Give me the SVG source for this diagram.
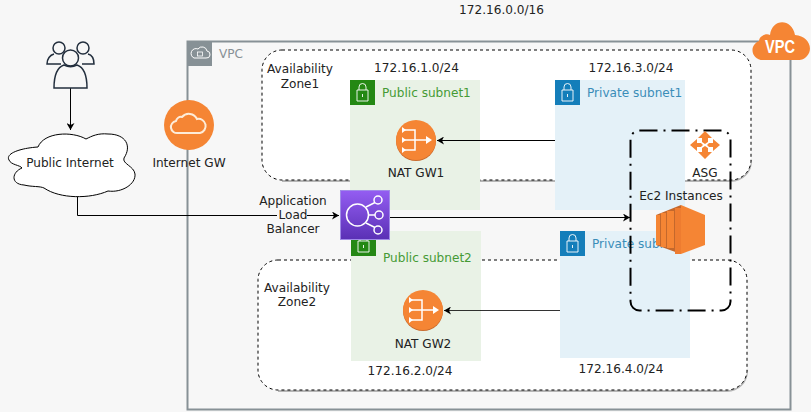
<svg xmlns="http://www.w3.org/2000/svg" width="811" height="412" viewBox="0 0 811 412">
<style>
text{font-family:"DejaVu Sans",sans-serif;font-size:12.100px;fill:#222;text-anchor:middle}
.az{fill:#fff;stroke:#000;stroke-dasharray:3 3;stroke-width:1}
.azs{fill:none;stroke:#888;stroke-width:2;opacity:.6}
.line{fill:none;stroke:#000;stroke-width:1}
.ic{fill:none;stroke:#fff;stroke-width:1.500}
.orange{fill:#f58534}
.pub{fill:#e9f2e6}
.pri{fill:#e4f1f8}
.gt{fill:#459a35;text-anchor:start}
.bt{fill:#3a8db8;text-anchor:start}
</style>
<defs>
<marker id="a" markerWidth="8" markerHeight="8" refX="7" refY="4" orient="auto" markerUnits="userSpaceOnUse"><path d="M0 0L7 4L0 8L2 4Z" fill="#000"/></marker>
<linearGradient id="elb" x1="0" y1="0" x2="0" y2="1"><stop offset="0" stop-color="#945df2"/><stop offset="1" stop-color="#5a30b5"/></linearGradient>
</defs>
<rect width="811" height="412" fill="#f7f7f7"/>
<text x="501.500" y="14">172.16.0.0/16</text>
<g id="vpc">
<rect x="187.500" y="41.500" width="603" height="368" fill="none" stroke="#879196" stroke-width="2"/>
<rect x="187" y="41" width="25" height="25" fill="#879196"/>
<path d="M194 58h12a3.500 3.500 0 0 0 1-7 5 5 0 0 0-9-2 4 4 0 0 0-4 9Z" fill="none" stroke="#fff"/>
<rect x="197.500" y="52" width="5" height="4" fill="none" stroke="#fff" stroke-width=".8"/>
<text x="219" y="58" style="text-anchor:start;fill:#879196">VPC</text>
</g>
<g id="az1">
<path class="azs" d="M751 160v1a20 20 0 0 1-20 20H282"/>
<rect class="az" x="262" y="50" width="489" height="130" rx="20"/>
<text x="300" y="73">Availability</text>
<text x="300" y="88">Zone1</text>
</g>
<g id="az2">
<path class="azs" d="M747 370v1a20 20 0 0 1-20 20H278"/>
<rect class="az" x="258" y="260" width="489" height="130" rx="20"/>
<text x="297" y="292">Availability</text>
<text x="297" y="306">Zone2</text>
</g>
<g id="public-subnet1">
<rect class="pub" x="350" y="80" width="130" height="130"/>
<rect x="350" y="80" width="25" height="25" fill="#248814"/>
<path d="M357 90h11v11h-11ZM359 90v-3a3.500 3.500 0 0 1 7 0v3M362.500 94v3" fill="none" stroke="#fff" stroke-width=".9"/>
<text class="gt" x="382" y="97">Public subnet1</text>
<text x="416.500" y="72">172.16.1.0/24</text>
</g>
<g id="private-subnet1">
<rect class="pri" x="555" y="80" width="130" height="130"/>
<rect x="555" y="80" width="25" height="25" fill="#147eba"/>
<path d="M562 90h11v11h-11ZM564 90v-3a3.500 3.500 0 0 1 7 0v3M567.500 94v3" fill="none" stroke="#fff" stroke-width=".9"/>
<text class="bt" x="587" y="97">Private subnet1</text>
<text x="631" y="72">172.16.3.0/24</text>
</g>
<g id="public-subnet2">
<rect class="pub" x="351" y="231" width="130" height="130"/>
<rect x="351" y="231" width="25" height="25" fill="#248814"/>
<path d="M358 241h11v11h-11ZM360 241v-3a3.500 3.500 0 0 1 7 0v3M363.500 245v3" fill="none" stroke="#fff" stroke-width=".9"/>
<text class="gt" x="383" y="262">Public subnet2</text>
<text x="410" y="375">172.16.2.0/24</text>
</g>
<g id="private-subnet2">
<rect class="pri" x="560" y="231" width="130" height="127"/>
<rect x="560" y="231" width="25" height="25" fill="#147eba"/>
<path d="M567 241h11v11h-11ZM569 241v-3a3.500 3.500 0 0 1 7 0v3M572.500 245v3" fill="none" stroke="#fff" stroke-width=".9"/>
<text class="bt" x="592" y="248">Private subnet2</text>
<text x="621" y="373">172.16.4.0/24</text>
</g>
<g id="connectors">
<path class="line" d="M70.500 88V130" marker-end="url(#a)"/>
<path class="line" d="M77.500 197V215.500H339" marker-end="url(#a)"/>
<path class="line" d="M389 217.500H630" marker-end="url(#a)"/>
<path class="line" d="M555 140.500H437" marker-end="url(#a)"/>
<path class="line" stroke-opacity=".8" d="M560 310.500H444" marker-end="url(#a)"/>
</g>
<g id="users" fill="none" stroke="#232f3e" stroke-width="1.500">
<circle cx="59" cy="48" r="6"/><circle cx="83" cy="48" r="6"/>
<path d="M54 54c-4 1-7 5-7 10h14M88 54c4 1 6 5 6 10H82"/>
<circle cx="70.500" cy="58" r="8" fill="#f7f7f7"/>
<path d="M64 65c-6 2-10 8-10 23h33c0-15-4-21-10-23c-4 2-9 2-13 0Z" fill="#f7f7f7"/>
</g>
<g id="public-internet">
<path d="M38 147C22 148 5 153 9 160C11 165 20 165 22 168C12 172 10 184 24 185C32 187 40 186 44 188C60 199 90 199 108 191C122 193 136 184 135 174C134 166 122 164 124 158C132 146 126 134 108 134C98 133 92 136 86 139C72 131 44 132 38 147Z" fill="#fff" stroke="#000"/>
<text x="70" y="167">Public Internet</text>
</g>
<g id="internet-gw">
<circle class="orange" cx="189" cy="125" r="25"/>
<path d="M178 133a6 6 0 0 1-2-12a5 5 0 0 1 6-4a9 9 0 0 1 15 2a7 7 0 0 1 3 14Z" fill="none" stroke="#fdecd9" stroke-width="2"/>
<text x="189" y="167">Internet GW</text>
</g>
<g id="nat-gw1">
<circle cx="416" cy="141" r="20" fill="#c96a2c"/>
<circle class="orange" cx="416" cy="140" r="20"/>
<path class="ic" d="M402 130h13v20h-13M402 140h24"/>
<path d="M402 127l4 3l-4 3ZM402 137l4 3l-4 3ZM402 147l4 3l-4 3ZM426 136l6 4l-6 4Z" fill="#fff"/>
<text x="416" y="177">NAT GW1</text>
</g>
<g id="nat-gw2">
<circle cx="423" cy="311" r="20" fill="#c96a2c"/>
<circle class="orange" cx="423" cy="310" r="20"/>
<path class="ic" d="M409 300h13v20h-13M409 310h24"/>
<path d="M409 297l4 3l-4 3ZM409 307l4 3l-4 3ZM409 317l4 3l-4 3ZM433 306l6 4l-6 4Z" fill="#fff"/>
<text x="423" y="348">NAT GW2</text>
</g>
<g id="elb-node">
<rect x="340.500" y="190.500" width="49" height="49" fill="url(#elb)" stroke="#a08be8"/>
<circle cx="357.500" cy="215" r="11" fill="none" stroke="#fff" stroke-width="1.500"/>
<circle cx="378" cy="200" r="4" fill="none" stroke="#fff" stroke-width="1.500"/>
<circle cx="379" cy="215" r="4" fill="none" stroke="#fff" stroke-width="1.500"/>
<circle cx="378" cy="230" r="4" fill="none" stroke="#fff" stroke-width="1.500"/>
<path d="M366 207L375 202.500M368.500 215H375M366 223L375 227.500" stroke="#fff" stroke-width="1.500"/>
<rect x="277" y="209" width="30" height="13" fill="#f7f7f7"/>
<text x="293" y="205">Application</text>
<text x="293" y="219">Load</text>
<text x="293" y="233">Balancer</text>
</g>
<g id="ec2">
<path d="M656 215L681 205V254L656 245Z" fill="#c4682c"/>
<path d="M656 215h4v30h-4ZM661 213h5v34h-5ZM667 211h7v37h-7Z" fill="#f58534"/>
<path d="M675 208h6v46h-6Z" fill="#ee7c30"/>
<path d="M681 205L705 215V245L681 254Z" fill="#f58534"/>
</g>
<g id="asg">
<rect x="630.500" y="130.500" width="100" height="180" rx="9" fill="none" stroke="#000" stroke-width="2" stroke-dasharray="18 6 2 6"/>
<path class="orange" d="M705 131l7 7h-4v4l-3 2l-3-2v-4h-4ZM705 159l-7-7h4v-4l3-2l3 2v4h4ZM690 145l7-6v4h4l2 2l-2 2h-4v4ZM720 145l-7-6v4h-4l-2 2l2 2h4v4Z"/>
<text x="705" y="177">ASG</text>
<text x="681" y="200">Ec2 Instances</text>
</g>
<g id="vpc-badge">
<path class="orange" d="M763 60C752 60 748 46 759 41C759 36 766 33 770 35C772 18 792 18 795 35C808 36 814 48 807 56C804 60 800 60 798 60Z"/>
<text x="780" y="53" textLength="30" lengthAdjust="spacingAndGlyphs" style="fill:#fff;font-family:'Liberation Sans',sans-serif;font-size:19px;font-weight:bold">VPC</text>
</g>
</svg>
